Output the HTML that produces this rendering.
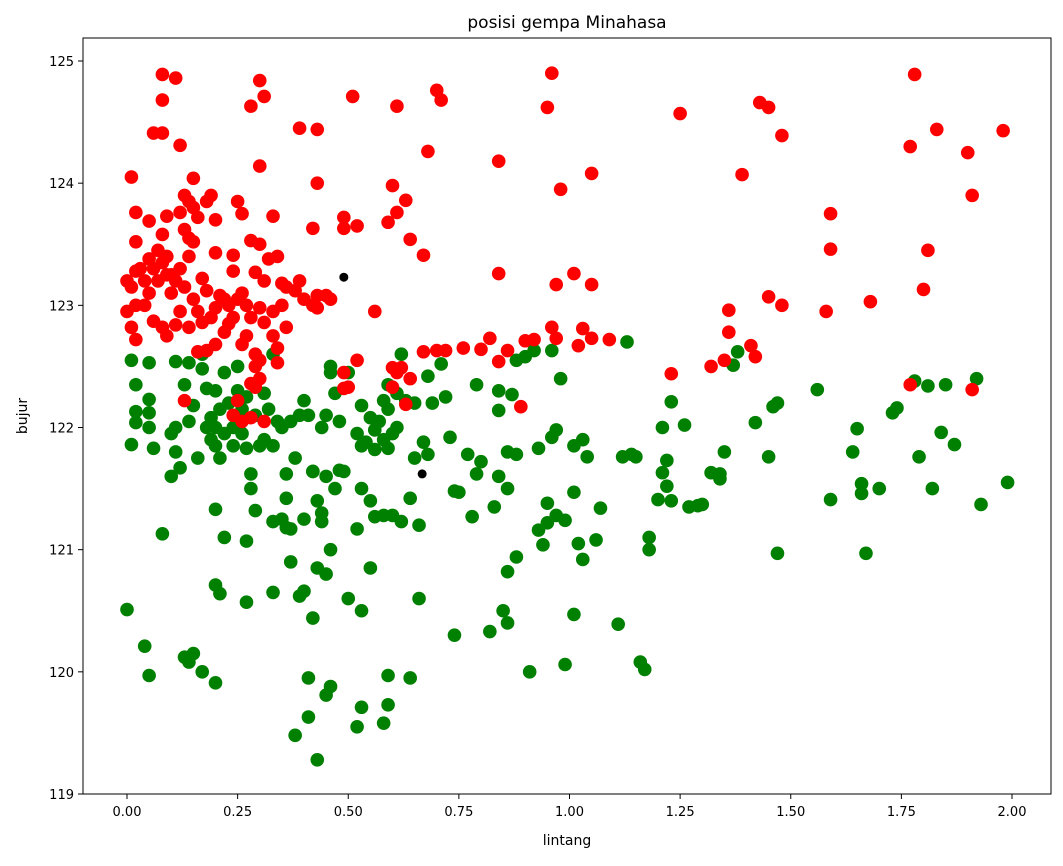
<!DOCTYPE html>
<html><head><meta charset="utf-8"><style>
body{margin:0;background:#fff;}
svg text{font-family:"DejaVu Sans","Liberation Sans",sans-serif;fill:#000;}
</style></head><body>
<svg id="chart" width="1063" height="861" xmlns="http://www.w3.org/2000/svg">
<rect width="1063" height="861" fill="#fff"/>
<text x="567" y="28" font-size="17" text-anchor="middle">posisi gempa Minahasa</text>
<g id="marks"></g>
<rect x="83" y="38" width="968" height="756" fill="none" stroke="#000" stroke-width="1"/>
<g id="axes"></g>
<text x="567" y="845" font-size="14" text-anchor="middle">lintang</text>
<text x="27" y="416" font-size="14" text-anchor="middle" transform="rotate(-90 27 416)">bujur</text>
</svg>
<script>
const xTicks=[0,0.25,0.5,0.75,1.0,1.25,1.5,1.75,2.0];
const xTickLabels=["0.00","0.25","0.50","0.75","1.00","1.25","1.50","1.75","2.00"];
const yTicks=[119,120,121,122,123,124,125];
const greenX=[0.0,0.04,0.05,0.08,0.01,0.01,0.02,0.02,0.02,0.05,0.05,0.05,0.05,0.06,0.1,0.1,0.11,0.11,0.11,0.12,0.13,0.14,0.14,0.15,0.16,0.17,0.17,0.18,0.18,0.19,0.19,0.2,0.2,0.2,0.21,0.21,0.22,0.22,0.23,0.24,0.24,0.25,0.25,0.26,0.26,0.27,0.27,0.28,0.28,0.29,0.29,0.3,0.31,0.31,0.32,0.33,0.33,0.34,0.35,0.35,0.36,0.36,0.36,0.37,0.37,0.37,0.38,0.39,0.4,0.4,0.41,0.42,0.43,0.44,0.44,0.44,0.45,0.45,0.46,0.46,0.46,0.43,0.45,0.47,0.47,0.48,0.49,0.48,0.5,0.5,0.52,0.52,0.53,0.53,0.53,0.53,0.54,0.55,0.55,0.55,0.56,0.56,0.56,0.57,0.58,0.58,0.58,0.59,0.59,0.59,0.6,0.6,0.61,0.61,0.62,0.62,0.63,0.64,0.65,0.65,0.66,0.66,0.67,0.68,0.68,0.69,0.71,0.72,0.73,0.74,0.74,0.75,0.77,0.78,0.79,0.79,0.8,0.82,0.83,0.84,0.84,0.84,0.85,0.86,0.86,0.86,0.86,0.87,0.88,0.88,0.88,0.9,0.91,0.92,0.93,0.93,0.94,0.95,0.95,0.96,0.96,0.97,0.97,0.98,0.99,0.99,1.01,1.01,1.01,1.02,1.03,1.03,1.04,1.06,1.07,1.11,1.12,1.13,1.14,1.15,1.16,1.17,1.18,1.18,1.2,1.21,1.21,1.22,1.22,1.23,1.23,1.26,1.27,1.29,1.3,1.32,1.34,1.34,1.35,1.37,1.38,1.42,1.45,1.46,1.47,1.47,1.56,1.59,1.64,1.65,1.66,1.66,1.67,1.7,1.73,1.74,1.78,1.79,1.81,1.82,1.84,1.85,1.87,1.92,1.93,1.99,0.13,0.14,0.15,0.17,0.2,0.2,0.21,0.2,0.22,0.27,0.27,0.33,0.33,0.38,0.39,0.4,0.41,0.41,0.42,0.43,0.45,0.46,0.52,0.53,0.58,0.59,0.59,0.64,0.42];
const greenY=[120.51,120.21,119.97,121.13,121.86,122.55,122.35,122.13,122.04,122.53,122.23,122.12,122.0,121.83,121.6,121.95,122.0,121.8,122.54,121.67,122.35,122.53,122.05,122.18,121.75,122.6,122.48,122.32,122.0,121.9,122.08,122.3,122.0,121.85,122.15,121.75,122.45,121.95,122.2,122.0,121.85,122.5,122.3,122.15,121.95,122.25,121.83,121.62,121.5,121.32,122.1,121.85,121.9,122.28,122.15,121.85,122.6,122.05,121.25,122.0,121.62,121.42,121.18,121.17,120.9,122.05,121.75,122.1,122.22,121.25,122.1,121.64,121.4,121.3,121.23,122.0,122.1,121.6,122.5,122.45,121.0,120.85,120.8,122.28,121.5,121.65,121.64,122.05,122.45,120.6,121.17,121.95,122.18,121.85,121.5,120.5,121.88,121.4,122.08,120.85,121.98,121.82,121.27,122.05,122.22,121.9,121.28,122.35,122.15,121.83,121.95,121.28,122.28,122.0,122.6,121.23,122.22,121.42,121.75,122.2,121.2,120.6,121.88,121.78,122.42,122.2,122.52,122.25,121.92,121.48,120.3,121.47,121.78,121.27,122.35,121.62,121.72,120.33,121.35,121.6,122.3,122.14,120.5,120.4,120.82,121.5,121.8,122.27,121.78,120.94,122.55,122.58,120.0,122.63,121.83,121.16,121.04,121.38,121.22,121.92,122.63,121.98,121.28,122.4,121.24,120.06,121.85,121.47,120.47,121.05,120.92,121.9,121.76,121.08,121.34,120.39,121.76,122.7,121.78,121.76,120.08,120.02,121.1,121.0,121.41,122.0,121.63,121.73,121.52,122.21,121.4,122.02,121.35,121.36,121.37,121.63,121.62,121.58,121.8,122.51,122.62,122.04,121.76,122.17,122.2,120.97,122.31,121.41,121.8,121.99,121.54,121.46,120.97,121.5,122.12,122.16,122.38,121.76,122.34,121.5,121.96,122.35,121.86,122.4,121.37,121.55,120.12,120.08,120.15,120.0,119.91,120.71,120.64,121.33,121.1,121.07,120.57,120.65,121.23,119.48,120.62,120.66,119.95,119.63,120.44,119.28,119.81,119.88,119.55,119.71,119.58,119.97,119.73,119.95,121.64];
const redX=[0.08,0.11,0.08,0.06,0.08,0.12,0.01,0.15,0.30,0.31,0.28,0.30,0.39,0.43,0.43,0.51,0.70,0.71,0.68,0.61,0.96,0.95,0.84,0.98,1.05,1.25,1.43,1.45,1.48,1.39,1.78,1.83,1.77,1.90,1.98,1.91,1.59,1.59,1.81,1.80,1.68,1.58,1.45,1.48,1.36,1.36,1.35,1.32,1.41,1.42,1.77,1.91,1.23,0.84,0.97,1.05,1.01,0.84,0.86,0.82,0.80,0.76,0.72,0.70,0.67,0.90,0.92,0.97,1.03,1.05,1.09,1.02,0.96,0.89,0.67,0.64,0.63,0.61,0.60,0.59,0.52,0.49,0.49,0.42,0.56,0.52,0.49,0.50,0.60,0.60,0.62,0.64,0.63,0.61,0.02,0.02,0.05,0.09,0.12,0.13,0.14,0.15,0.16,0.18,0.19,0.2,0.25,0.26,0.33,0.28,0.3,0.32,0.34,0.08,0.07,0.14,0.15,0.13,0.2,0.24,0.05,0.06,0.08,0.1,0.12,0.14,0.17,0.24,0.29,0.31,0.35,0.36,0.38,0.39,0.4,0.42,0.43,0.43,0.45,0.46,0.0,0.01,0.03,0.04,0.02,0.0,0.01,0.02,0.04,0.06,0.08,0.09,0.11,0.12,0.14,0.16,0.17,0.19,0.2,0.21,0.23,0.25,0.26,0.27,0.28,0.3,0.31,0.33,0.35,0.36,0.33,0.34,0.34,0.29,0.29,0.28,0.29,0.25,0.24,0.26,0.28,0.31,0.13,0.16,0.18,0.2,0.22,0.23,0.24,0.26,0.27,0.1,0.13,0.18,0.22,0.07,0.05,0.15,0.11,0.02,0.09,0.49,0.3,0.3,0.09];
const redY=[124.89,124.86,124.68,124.41,124.41,124.31,124.05,124.04,124.84,124.71,124.63,124.14,124.45,124.44,124.0,124.71,124.76,124.68,124.26,124.63,124.90,124.62,124.18,123.95,124.08,124.57,124.66,124.62,124.39,124.07,124.89,124.44,124.30,124.25,124.43,123.90,123.75,123.46,123.45,123.13,123.03,122.95,123.07,123.00,122.96,122.78,122.55,122.50,122.67,122.58,122.35,122.31,122.44,123.26,123.17,123.17,123.26,122.54,122.63,122.73,122.64,122.65,122.63,122.63,122.62,122.71,122.72,122.73,122.81,122.73,122.72,122.67,122.82,122.17,123.41,123.54,123.86,123.76,123.98,123.68,123.65,123.72,123.63,123.63,122.95,122.55,122.45,122.33,122.33,122.49,122.49,122.40,122.19,122.45,123.76,123.52,123.69,123.73,123.76,123.9,123.85,123.8,123.72,123.85,123.9,123.7,123.85,123.75,123.73,123.53,123.5,123.38,123.4,123.58,123.45,123.55,123.52,123.62,123.43,123.41,123.38,123.3,123.35,123.25,123.3,123.4,123.22,123.28,123.27,123.2,123.18,123.15,123.12,123.2,123.05,123.0,122.98,123.08,123.08,123.05,123.2,123.15,123.3,123.2,123.0,122.95,122.82,122.72,123.0,122.87,122.82,122.75,122.84,122.95,122.82,122.95,122.86,122.9,122.98,123.08,123.0,123.05,123.1,123.0,122.9,122.98,122.86,122.95,123.0,122.82,122.75,122.65,122.53,122.6,122.5,122.36,122.33,122.22,122.1,122.05,122.08,122.05,122.22,122.62,122.63,122.68,122.78,122.85,122.9,122.68,122.75,123.1,123.15,123.12,123.05,123.2,123.1,123.05,123.2,123.28,123.25,122.32,122.55,122.4,123.4];
const blackX=[0.49,0.667];
const blackY=[123.23,121.62];

const NS="http://www.w3.org/2000/svg";
function sx(v){return 127+(v-0)*442.5;}
function sy(v){return 794-(v-119)*(733/6);}
const marks=document.getElementById('marks');
const axes=document.getElementById('axes');
function dot(x,y,r,c,name){
  const e=document.createElementNS(NS,'circle');
  e.setAttribute('cx',sx(x));e.setAttribute('cy',sy(y));e.setAttribute('r',r);e.setAttribute('fill',c);
  
  
  marks.appendChild(e);
}
for(let i=0;i<greenX.length;i++) dot(greenX[i],greenY[i],6.8,'#008000','green-point');
for(let i=0;i<redX.length;i++) dot(redX[i],redY[i],6.8,'#ff0000','red-point');
for(let i=0;i<blackX.length;i++) dot(blackX[i],blackY[i],4.5,'#000','black-point');
xTicks.forEach((t,i)=>{
  const x=sx(t);
  const l=document.createElementNS(NS,'line');
  l.setAttribute('x1',x);l.setAttribute('x2',x);l.setAttribute('y1',794);l.setAttribute('y2',799);l.setAttribute('stroke','#000');
  
  
  axes.appendChild(l);
  const tx=document.createElementNS(NS,'text');
  tx.setAttribute('x',x);tx.setAttribute('y',816);tx.setAttribute('font-size','13');tx.setAttribute('text-anchor','middle');
  tx.textContent=xTickLabels[i];
  
  
  axes.appendChild(tx);
});
yTicks.forEach(t=>{
  const y=sy(t);
  const l=document.createElementNS(NS,'line');
  l.setAttribute('x1',78);l.setAttribute('x2',83);l.setAttribute('y1',y);l.setAttribute('y2',y);l.setAttribute('stroke','#000');
  
  
  axes.appendChild(l);
  const tx=document.createElementNS(NS,'text');
  tx.setAttribute('x',74);tx.setAttribute('y',y+5);tx.setAttribute('font-size','13');tx.setAttribute('text-anchor','end');
  tx.textContent=String(t);
  
  
  axes.appendChild(tx);
});
</script>
</body></html>
